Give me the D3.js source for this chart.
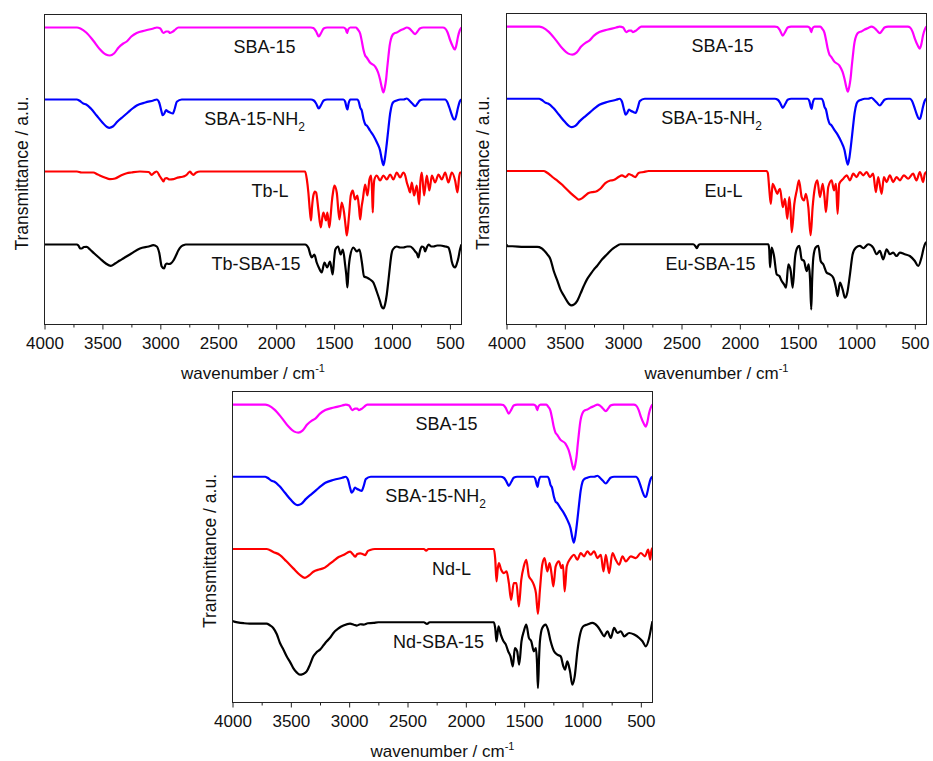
<!DOCTYPE html>
<html>
<head>
<meta charset="utf-8">
<script src="https://cdn.jsdelivr.net/npm/d3@7"></script>
<style>
  body { margin: 0; background: #ffffff; }
  svg { display: block; }
  text { font-family: "Liberation Sans", Arial, Helvetica, sans-serif; fill: #111; }
</style>
</head>
<body>
<svg id="chart" width="933" height="761"></svg>
<script>
// FTIR spectra: [wavenumber (cm^-1), relative transmittance (0 = baseline, dips negative)]
const sba15 = [[4000,0],[3720,0],[3690,-1],[3640,-5],[3580,-13],[3520,-22],[3470,-27],[3435,-28],[3400,-26],[3360,-20],[3320,-16],[3290,-14],[3250,-9],[3204,-5.5],[3130,-3],[3060,-1],[3030,0],[3000,-1],[2974,-5.5],[2950,-4],[2931,-4],[2916,-5.5],[2890,-4],[2870,-2],[2845,0],[1700,0],[1679,-0.5],[1655,-4],[1632,-9],[1610,-5],[1590,-1],[1560,0],[1420,0],[1400,-1.5],[1388,-5.5],[1378,-2],[1360,0],[1310,0],[1295,-2],[1275,-6],[1260,-14],[1247,-22],[1232,-28],[1218,-30],[1190,-35],[1146,-39],[1120,-45],[1103,-52],[1088,-60],[1074,-65],[1062,-60],[1051,-52],[1041,-40],[1031,-29],[1020,-18],[1010,-12],[993,-7],[975,-5.5],[959,-5],[930,-3],[900,-1.5],[872,0],[850,-1],[825,-4],[800,-6.6],[780,-4],[760,-1],[729,0],[560,0],[541,-1],[520,-5],[500,-12],[475,-19],[458,-22],[445,-18],[430,-9],[415,-3],[400,0]];

const sba15NH2 = [[4000,0],[3720,0],[3700,-1],[3665,-4],[3640,-5],[3600,-9],[3550,-16],[3500,-23],[3460,-27.5],[3440,-28.3],[3410,-27],[3370,-22],[3320,-17],[3280,-13],[3240,-9],[3204,-6],[3130,-3],[3060,-1],[3031,0],[3010,-3],[2990,-12],[2980,-15.7],[2965,-14],[2951,-10.7],[2935,-12],[2916,-13],[2893,-14],[2875,-9],[2858,-2.3],[2815,0],[1700,0],[1675,-1],[1655,-4],[1632,-9],[1610,-5],[1590,-1],[1560,0],[1420,0],[1405,-2],[1392,-8],[1385,-10],[1375,-4],[1360,0],[1300,0],[1285,-3],[1275,-8],[1261,-11],[1245,-20],[1230,-25],[1218,-26],[1190,-31],[1161,-36],[1130,-43],[1103,-51],[1088,-60],[1074,-65.7],[1060,-58],[1045,-44],[1030,-28],[1016,-14],[1000,-5],[985,-2.3],[960,-1],[930,0],[900,0],[872,1],[850,-1],[825,-4],[800,-6.7],[780,-4],[760,-1],[729,0],[540,0],[525,-2],[505,-8],[485,-15],[465,-20],[456,-20],[445,-16],[430,-8],[415,-2],[400,0]];

const tbL = [[4000,0],[3720,0],[3680,-1],[3620,-1],[3579,-1],[3540,-3],[3480,-6],[3435,-7.7],[3390,-7],[3340,-4],[3290,-1.7],[3250,-1],[3176,0],[3100,-0.5],[3075,-3.3],[3050,-1],[3031,0],[3003,-5],[2985,-8],[2974,-10],[2960,-7],[2945,-6.7],[2920,-8],[2887,-7.7],[2860,-6.5],[2829,-5.7],[2800,-5],[2772,-3.3],[2755,-1],[2743,0],[2730,-2],[2714,-3.3],[2690,-1],[2656,0],[1750,0],[1735,-8],[1722,-21],[1710,-38],[1699,-49],[1690,-35],[1679,-24],[1665,-20],[1655,-21],[1636,-38],[1615,-56],[1600,-45],[1592,-41],[1569,-49],[1558,-41],[1541,-56],[1530,-45],[1520,-31],[1508,-20],[1497,-14],[1477,-21],[1454,-48],[1434,-31],[1414,-41],[1400,-55],[1390,-64],[1371,-44],[1356,-24],[1339,-19],[1319,-28],[1299,-24],[1285,-36],[1275,-48],[1262,-35],[1252,-28],[1232,-13],[1212,-24],[1195,-8],[1180,-4],[1172,-20],[1166,-41],[1160,-20],[1152,-8],[1132,-4],[1103,-9],[1074,-4],[1045,-8],[1016,-3],[988,-8],[959,-1],[930,-6],[902,-1],[886,-4],[872,-11],[858,-16],[844,-21],[829,-11],[809,-24],[786,-14],[766,-33],[755,-10],[743,-1],[723,-24],[700,-4],[677,-19],[656,-4],[628,-11],[599,-3],[570,-8],[541,-1],[513,-11],[484,-1],[455,-9],[435,-21],[420,-5],[412,-1],[400,-1]];

const tbSBA15 = [[4000,0],[3720,0],[3708,-1],[3690,-4],[3679,-4],[3660,-2.5],[3636,-2.3],[3607,-5],[3570,-9],[3521,-14],[3470,-19],[3428,-21.3],[3390,-19],[3350,-16],[3320,-14],[3250,-9],[3176,-4],[3100,-2],[3060,-0.7],[3031,-2],[3010,-8],[2988,-22],[2968,-24],[2955,-20],[2945,-19],[2925,-19.5],[2910,-19],[2887,-16],[2865,-11],[2845,-6],[2820,-2],[2801,-0.7],[2780,0],[1750,0],[1722,-3.3],[1705,-10],[1693,-13],[1670,-10],[1650,-18],[1632,-23],[1607,-28],[1583,-18],[1560,-23],[1535,-17],[1512,-30],[1500,-15],[1489,-5],[1466,-2],[1443,-10],[1424,-5],[1405,-20],[1395,-30],[1385,-43],[1375,-25],[1362,-12],[1333,-3],[1304,-7],[1281,-5],[1261,-17],[1241,-32],[1218,-33],[1189,-35],[1161,-38],[1132,-47],[1103,-57],[1090,-62],[1074,-64],[1060,-60],[1045,-50],[1030,-35],[1016,-20],[1005,-10],[993,-5],[959,-2],[930,-3],[902,-3],[870,-2],[844,-2],[820,-4],[800,-7],[785,-9],[772,-13],[760,-7],[743,-2],[725,-3],[714,-7],[700,-3],[685,0],[660,-2],[642,-2],[610,-1],[584,-1],[540,-2],[513,-3],[495,-10],[484,-17],[468,-22],[455,-23],[440,-19],[426,-13],[415,-6],[406,-2],[400,0]];

const euL = [[4000,0],[3680,0],[3655,-1.5],[3630,-3.5],[3609,-5.7],[3560,-10],[3520,-14],[3495,-17],[3450,-22],[3410,-26],[3381,-28.5],[3350,-27],[3320,-24],[3296,-22],[3260,-21],[3238,-20.7],[3196,-17.7],[3153,-12],[3110,-9.5],[3082,-9],[3040,-6],[3010,-4.3],[2982,-6],[2968,-5],[2953,-3],[2925,-4.3],[2896,-6],[2868,-2],[2825,-1],[2782,0],[1770,0],[1760,-2],[1749,-16],[1735,-32.7],[1725,-20],[1718,-12.7],[1698,-17.7],[1678,-22.7],[1665,-19],[1655,-17.7],[1632,-36],[1613,-27.7],[1593,-47.7],[1576,-26],[1565,-40],[1555,-61],[1533,-32.7],[1512,-19.3],[1493,-9.3],[1470,-26],[1450,-29.3],[1433,-22.7],[1413,-36],[1393,-64],[1376,-36],[1356,-16],[1336,-9.3],[1313,-26],[1290,-12.7],[1275,-25],[1262,-41],[1242,-16],[1213,-9.3],[1193,-19.3],[1176,-12.7],[1162,-42.7],[1148,-12.7],[1113,-7.7],[1084,-4.3],[1056,-9.3],[1028,-2.7],[999,-6],[971,-1],[942,-4.3],[913,-1],[885,-6],[857,-2.7],[834,-21],[814,-6],[785,-22.7],[765,-6],[742,-11],[714,-4.3],[686,-11],[657,-6],[628,-9.3],[594,-4.3],[557,-7.7],[515,-2.7],[486,-9.3],[457,-1],[429,-11],[415,-3],[400,-1]];

const euSBA15 = [[4000,0],[3994,-2],[3950,-2],[3852,-2.7],[3737,-2.7],[3700,-4],[3680,-6],[3650,-10],[3623,-15],[3595,-26.7],[3565,-36],[3538,-45],[3510,-51],[3481,-56.7],[3460,-60],[3444,-61],[3420,-60],[3395,-56.7],[3365,-49],[3338,-41.7],[3310,-35],[3281,-30],[3250,-25],[3224,-21.7],[3180,-15],[3138,-10],[3100,-5.5],[3067,-2.7],[3024,0],[2400,0],[2380,-2],[2368,-4],[2355,-1],[2340,0],[1755,0],[1748,-5],[1741,-23],[1727,-3.3],[1707,-11.7],[1684,-30],[1661,-31.7],[1641,-36.7],[1621,-40],[1604,-43.3],[1584,-20],[1564,-26.7],[1547,-43.3],[1527,-13.3],[1507,-3.3],[1490,-1.7],[1470,-15],[1450,-16.7],[1427,-26.7],[1410,-20],[1398,-35],[1388,-65],[1380,-35],[1370,-13.3],[1350,-3.3],[1327,-1.7],[1307,-16.7],[1285,-20],[1256,-28.3],[1227,-30],[1199,-33.3],[1176,-43.3],[1162,-51.7],[1142,-38.3],[1119,-45],[1099,-53.3],[1079,-48.3],[1056,-30],[1033,-10],[1005,-3.3],[971,-1.7],[942,-4],[899,0],[857,-3.3],[828,-10],[800,-6.7],[771,-15],[742,-5],[714,-10],[686,-8.3],[657,-11.7],[628,-8.3],[586,-10],[543,-11.7],[500,-16.7],[471,-21.7],[443,-13.3],[423,-3.3],[406,1.7],[400,2]];

const ndL = [[4000,0],[3706,0],[3650,-3],[3593,-6],[3540,-12],[3479,-19.3],[3420,-26],[3379,-28.7],[3340,-26],[3307,-22.7],[3260,-20.5],[3221,-19.3],[3180,-16],[3135,-12],[3090,-8],[3049,-6],[2992,-2.7],[2970,-5],[2949,-7.7],[2930,-5],[2906,-4.3],[2885,-5],[2863,-6],[2840,-2],[2820,-1],[2780,0],[2360,0],[2340,-1.7],[2320,0],[1760,0],[1748,-10],[1737,-32.3],[1727,-20],[1717,-14],[1697,-20.7],[1674,-24],[1651,-22.3],[1631,-34],[1612,-50.7],[1589,-34],[1566,-34],[1546,-57.3],[1525,-30.7],[1503,-17.3],[1482,-10.7],[1459,-27.3],[1439,-30.7],[1417,-35.7],[1399,-44],[1382,-64.7],[1365,-40.7],[1345,-15.7],[1325,-9],[1302,-22.3],[1282,-14],[1265,-25],[1250,-37.3],[1230,-17.3],[1202,-12.3],[1181,-19],[1167,-15.7],[1153,-42.3],[1135,-17.3],[1101,-9],[1073,-5.7],[1044,-10.7],[1015,-4],[987,-7.3],[958,-2.3],[929,-5.7],[901,-2.3],[872,-9],[843,-5.7],[820,-22.3],[800,-5.7],[772,-24],[743,-4],[715,-10.7],[686,-15.7],[657,-7.3],[629,-12.3],[586,-7.3],[543,-9],[500,-4],[465,-7.3],[437,-0.7],[420,-10.7],[410,-2],[400,1]];

const ndSBA15 = [[4000,1.3],[3995,1],[3900,-1],[3852,-1.3],[3708,-1.3],[3680,-3],[3651,-5.7],[3620,-12],[3593,-20.7],[3565,-27],[3536,-34],[3505,-40],[3479,-45.7],[3450,-50],[3422,-52.3],[3395,-51.5],[3364,-49],[3335,-42],[3307,-34],[3280,-30],[3250,-27.3],[3220,-23],[3192,-19],[3160,-15],[3135,-10.7],[3090,-6],[3049,-3.3],[2992,-1.3],[2960,-2.5],[2934,-3.3],[2905,-2],[2877,-2.3],[2840,-1],[2792,-0.7],[2750,0],[2360,0],[2333,-1.7],[2310,0],[1760,0],[1748,-6],[1737,-19],[1720,-4],[1700,-12.3],[1677,-19],[1657,-22.3],[1637,-29],[1617,-34],[1597,-44],[1580,-25.7],[1560,-29],[1543,-42.3],[1523,-19],[1503,-9],[1482,-2.3],[1459,-15.7],[1439,-19],[1417,-29],[1399,-25.7],[1390,-40],[1382,-65.7],[1372,-35],[1365,-19],[1345,-5.7],[1316,-2.3],[1296,-7.3],[1273,-19],[1244,-29],[1216,-32.3],[1187,-34],[1164,-44],[1150,-47.3],[1130,-39],[1107,-49],[1087,-62.3],[1067,-54],[1044,-29],[1021,-12.3],[993,-4],[958,-2.3],[915,-0.7],[872,-4],[843,-9],[815,-14],[786,-9],[758,-15.7],[729,-5.7],[700,-10.7],[672,-9],[643,-14],[600,-10.7],[557,-12.3],[514,-15.7],[486,-19],[457,-24],[429,-15.7],[409,-4],[400,1]];

// vertical stacking offsets (a.u.), top trace first
const stackOffsets = [297, 225, 153, 80];
const yDomain = [0, 310];
const xDomain = [4000, 400];
const majorTicks = [4000, 3500, 3000, 2500, 2000, 1500, 1000, 500];
const minorTicks = [3750, 3250, 2750, 2250, 1750, 1250, 750];
const lineColors = ["#ff00ff", "#0000ff", "#ff0000", "#000000"];

// trace names: [main text, subscript]
const namesTb = [["SBA-15", ""], ["SBA-15-NH", "2"], ["Tb-L", ""], ["Tb-SBA-15", ""]];
const namesEu = [["SBA-15", ""], ["SBA-15-NH", "2"], ["Eu-L", ""], ["Eu-SBA-15", ""]];
const namesNd = [["SBA-15", ""], ["SBA-15-NH", "2"], ["Nd-L", ""], ["Nd-SBA-15", ""]];

const xTitle = "wavenumber / cm";
const xTitleSup = "-1";
const yTitle = "Transmittance / a.u.";

// panel layout
const panels = [
  { left: 44.5, top: 14.5, right: 461.5, bottom: 324.5, spectra: [sba15, sba15NH2, tbL, tbSBA15], names: namesTb,
    labelDx: [220, 210, 225.5, 211.5], yTitleX: 22 },
  { left: 506.5, top: 13.5, right: 926.5, bottom: 324.5, spectra: [sba15, sba15NH2, euL, euSBA15], names: namesEu,
    labelDx: [216, 205, 217, 204], yTitleX: 483 },
  { left: 232.5, top: 391.5, right: 652.5, bottom: 702.5, spectra: [sba15, sba15NH2, ndL, ndSBA15], names: namesNd,
    labelDx: [214, 203, 219, 206], yTitleX: 209.5 }
];

const svg = d3.select("#chart");

panels.forEach((p, pi) => {
  const x = d3.scaleLinear().domain(xDomain).range([p.left, p.right]);
  const y = d3.scaleLinear().domain(yDomain).range([p.bottom, p.top]);
  const g = svg.append("g");

  const clipId = "clip" + pi;
  svg.append("clipPath").attr("id", clipId)
    .append("rect").attr("x", p.left).attr("y", p.top)
    .attr("width", p.right - p.left).attr("height", p.bottom - p.top);

  // spectra
  p.spectra.forEach((spec, si) => {
    const line = d3.line()
      .x(d => x(d[0]))
      .y(d => y(stackOffsets[si] + d[1]))
      .curve(d3.curveMonotoneX);
    g.append("path")
      .datum(spec)
      .attr("d", line)
      .attr("fill", "none")
      .attr("stroke", lineColors[si])
      .attr("stroke-width", 2.2)
      .attr("stroke-linejoin", "round")
      .attr("clip-path", `url(#${clipId})`);
  });

  // trace names
  p.names.forEach((nm, si) => {
    const t = g.append("text")
      .attr("x", p.left + p.labelDx[si])
      .attr("y", y(stackOffsets[si]) + 25.5)
      .attr("text-anchor", "middle")
      .attr("font-size", 18);
    t.append("tspan").text(nm[0]);
    if (nm[1]) {
      t.append("tspan").attr("font-size", 12).attr("dy", 6).text(nm[1]);
    }
  });

  // frame
  g.append("rect")
    .attr("x", p.left).attr("y", p.top)
    .attr("width", p.right - p.left).attr("height", p.bottom - p.top)
    .attr("fill", "none").attr("stroke", "#222").attr("stroke-width", 1);

  // bottom axis
  const axis = d3.axisBottom(x).tickValues(majorTicks).tickSize(5).tickPadding(7)
    .tickFormat(d3.format("d"));
  const ax = g.append("g").attr("transform", `translate(0,${p.bottom})`).call(axis);
  ax.select(".domain").remove();
  ax.selectAll(".tick line").attr("stroke", "#222");
  ax.selectAll(".tick text").attr("font-size", 17).attr("font-family", null).attr("fill", "#111");

  const minor = d3.axisBottom(x).tickValues(minorTicks).tickSize(3).tickFormat("");
  const mx = g.append("g").attr("transform", `translate(0,${p.bottom})`).call(minor);
  mx.select(".domain").remove();
  mx.selectAll(".tick line").attr("stroke", "#222");

  // axis titles
  const xt = g.append("text")
    .attr("x", (p.left + p.right) / 2)
    .attr("y", p.bottom + 54.5)
    .attr("text-anchor", "middle")
    .attr("font-size", 17);
  xt.append("tspan").text(xTitle);
  xt.append("tspan").attr("font-size", 11).attr("dy", -7).text(xTitleSup);

  g.append("text")
    .attr("transform", `translate(${p.yTitleX},${(p.top + p.bottom) / 2 + 4}) rotate(-90)`)
    .attr("text-anchor", "middle")
    .attr("dy", "0.35em")
    .attr("font-size", 17.5)
    .text(yTitle);
});
</script>
</body>
</html>
